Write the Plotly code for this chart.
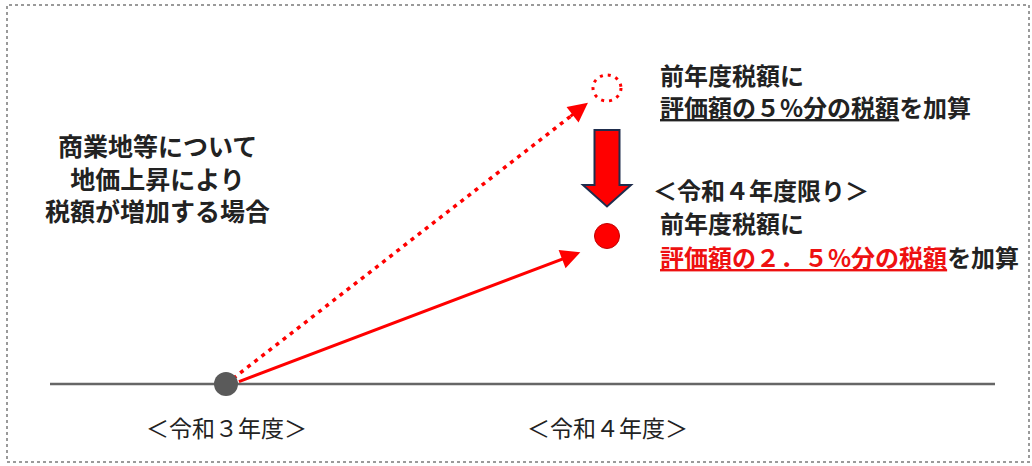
import plotly.graph_objects as go

# ---- data ----
years = [0, 1]                                   # 令和3年度, 令和4年度
year_labels = ["＜令和３年度＞", "＜令和４年度＞"]
base_value = 0.0                                 # 令和3年度 税額（基準）
full_add = 5.0                                   # 評価額の5%分を加算
half_add = 2.5                                   # 評価額の2.5%分を加算（令和4年度限り）

left_lines = ["商業地等について", "地価上昇により", "税額が増加する場合"]
upper_lines = ["前年度税額に", "<u>評価額の５%分の税額</u>を加算"]
lower_lines = ["＜令和４年度限り＞", "前年度税額に",
               "<span style='color:#ee1111'><u>評価額の２．５%分の税額</u></span>を加算"]

W, H = 1032, 466
RED = "#ff0000"
DARK = "#222222"
FONT = "Noto Sans CJK JP"

fig = go.Figure()

# dotted path to the 5% point (stops before arrowhead)
frac_d = 0.93
fig.add_trace(go.Scatter(
    x=[years[0], years[0] + (years[1] - years[0]) * frac_d],
    y=[base_value, base_value + (full_add - base_value) * frac_d],
    mode="lines", line=dict(color=RED, width=3.5, dash="4px,5px"),
    hoverinfo="skip", showlegend=False))

# markers: base (gray) and 2.5% point (red)
fig.add_trace(go.Scatter(
    x=[years[0]], y=[base_value], mode="markers",
    marker=dict(size=24, color="#5a5a5a", line=dict(width=0)),
    hoverinfo="skip", showlegend=False))
fig.add_trace(go.Scatter(
    x=[years[1]], y=[half_add], mode="markers",
    marker=dict(size=25, color=RED, line=dict(color="#c00000", width=1)),
    hoverinfo="skip", showlegend=False))

# arrowheads / arrows
tip_d = 0.95
fig.add_annotation(
    x=years[0] + (years[1] - years[0]) * tip_d, y=base_value + (full_add - base_value) * tip_d,
    ax=years[0] + (years[1] - years[0]) * 0.90, ay=base_value + (full_add - base_value) * 0.90,
    xref="x", yref="y", axref="x", ayref="y", text="", showarrow=True,
    arrowhead=2, arrowsize=1.3, arrowwidth=3, arrowcolor=RED, standoff=0)
tip_s = 0.93
fig.add_annotation(
    x=years[0] + (years[1] - years[0]) * tip_s, y=base_value + (half_add - base_value) * tip_s - 0.1,
    ax=years[0] + 0.03, ay=base_value + 0.03,
    xref="x", yref="y", axref="x", ayref="y", text="", showarrow=True,
    arrowhead=2, arrowsize=1.3, arrowwidth=3, arrowcolor=RED, standoff=0, startstandoff=0)

# dotted circle at the 5% point
rx, ry = 14 / 381, 13 / 59.2
fig.add_shape(type="circle", xref="x", yref="y",
              x0=years[1] - rx, x1=years[1] + rx, y0=full_add - ry, y1=full_add + ry,
              line=dict(color=RED, width=3, dash="3px,5px"))

# big downward arrow from 5% to 2.5%
cx = years[1]
sw, hw = 12.5 / 381, 24 / 381
top = full_add - 0.71
neck = half_add + 0.86
tip = half_add + 0.50
path = (f"M {cx - sw},{top} L {cx + sw},{top} L {cx + sw},{neck} L {cx + hw},{neck} "
        f"L {cx},{tip} L {cx - hw},{neck} L {cx - sw},{neck} Z")
fig.add_shape(type="path", xref="x", yref="y", path=path,
              fillcolor=RED, line=dict(color="#1f2d4d", width=2))

# baseline
fig.add_shape(type="line", xref="paper", yref="y", x0=50 / W, x1=995 / W,
              y0=base_value, y1=base_value, line=dict(color="#666666", width=2.5), layer="below")

# dotted frame
fig.add_shape(type="rect", xref="paper", yref="paper",
              x0=7 / W, x1=1029 / W, y0=1 - 462 / H, y1=1 - 5 / H,
              line=dict(color="#9a9a9a", width=2, dash="dot"))

def py(p):
    return 1 - p / H

# left explanatory text (one block, 1.3em line spacing ≈ 32.5px)
fig.add_annotation(x=157 / W, y=py(177.5), xref="paper", yref="paper",
                   text="<br>".join(f"<b>{t}</b>" for t in left_lines),
                   showarrow=False, xanchor="center", yanchor="middle", align="center",
                   borderpad=0, font=dict(family=FONT, size=25, color=DARK))

# upper right text
for txt, yp in zip(upper_lines, [74, 107]):
    fig.add_annotation(x=659 / W, y=py(yp), xref="paper", yref="paper", text=f"<b>{txt}</b>",
                       showarrow=False, xanchor="left", yanchor="middle", align="left",
                       borderpad=0, font=dict(family=FONT, size=24, color=DARK))

# lower right text
for txt, yp, xp in zip(lower_lines, [189, 222.5, 256.5], [652, 659, 659]):
    fig.add_annotation(x=xp / W, y=py(yp), xref="paper", yref="paper", text=f"<b>{txt}</b>",
                       showarrow=False, xanchor="left", yanchor="middle", align="left",
                       borderpad=0, font=dict(family=FONT, size=24, color=DARK))

# year labels under the baseline
for xv, lab in zip(years, year_labels):
    fig.add_annotation(x=xv, y=py(427), xref="x", yref="paper", text=lab,
                       showarrow=False, xanchor="center", yanchor="middle",
                       font=dict(family=FONT, size=23, color=DARK))

# axes mapped so that year0 -> 226px, year1 -> 607px, 0 -> 384px, 1 unit = 59.2px
xs = 381.0
ys = 59.2
fig.update_xaxes(range=[-226 / xs, (W - 226) / xs], visible=False, fixedrange=True)
fig.update_yaxes(range=[-(H - 384) / ys, 384 / ys], visible=False, fixedrange=True)
fig.update_layout(width=W, height=H, margin=dict(l=0, r=0, t=0, b=0),
                  plot_bgcolor="white", paper_bgcolor="white", showlegend=False)

fig.write_html("out.html", config={"displayModeBar": False},
               post_script="document.body.style.margin='0';document.body.style.overflow='hidden';")
